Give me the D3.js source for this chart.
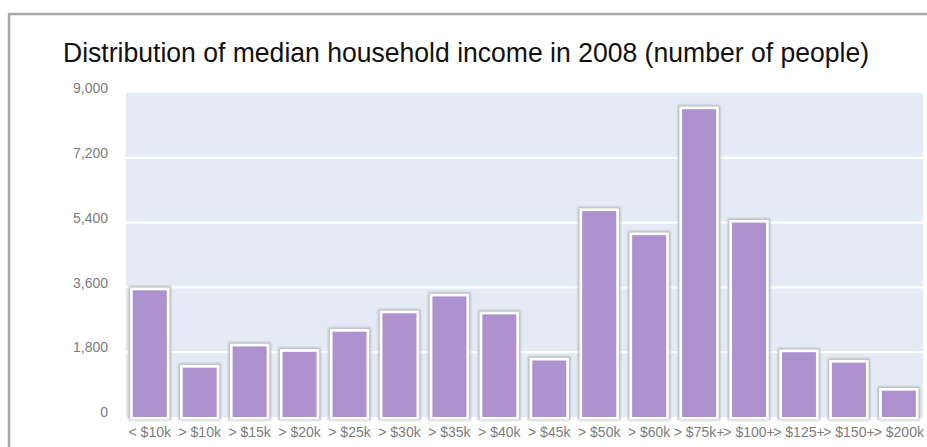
<!DOCTYPE html>
<html>
<head>
<meta charset="utf-8">
<script src="https://cdn.jsdelivr.net/npm/d3@7/dist/d3.min.js"></script>
<style>
  html, body { margin: 0; padding: 0; background: #fff; }
  svg { display: block; }
</style>
</head>
<body>
<svg id="chart" width="927" height="447"></svg>
<script>
// Income brackets and head counts
const categories = ["< $10k", "> $10k", "> $15k", "> $20k", "> $25k", "> $30k", "> $35k", "> $40k",
                    "> $45k", "> $50k", "> $60k", "> $75k+", "> $100+", "> $125+", "> $150+", "> $200k"];
const people = [3520, 1370, 1960, 1810, 2370, 2880, 3350, 2850,
                1570, 5720, 5050, 8550, 5400, 1800, 1510, 730];
const yTicks = [0, 1800, 3600, 5400, 7200, 9000];
const title = "Distribution of median household income in 2008 (number of people)";

const svg = d3.select("#chart");

// panel frame
svg.append("rect")
  .attr("x", 9).attr("y", 14).attr("width", 940).attr("height", 460)
  .attr("fill", "#fff").attr("stroke", "#a9a9a9").attr("stroke-width", 2.5);

const x = d3.scaleBand().domain(categories).range([124.8, 923.8]).paddingInner(0).paddingOuter(0);
const y = d3.scaleLinear().domain([0, 9000]).range([417, 93]);

// title
svg.append("text")
  .attr("x", 466).attr("y", 62)
  .attr("text-anchor", "middle")
  .attr("font-family", "Liberation Sans, Arial, sans-serif")
  .attr("font-size", 27.5)
  .attr("textLength", 806)
  .attr("lengthAdjust", "spacingAndGlyphs")
  .attr("fill", "#111")
  .text(title);

// plot background
svg.append("rect")
  .attr("x", 126).attr("y", y(9000))
  .attr("width", 797).attr("height", y(0) - y(9000))
  .attr("fill", "#e5ebf4");

// horizontal gridlines
svg.append("g")
  .selectAll("line")
  .data(yTicks.filter(d => d > 0 && d < 9000))
  .join("line")
  .attr("x1", 126).attr("x2", 923)
  .attr("y1", d => y(d)).attr("y2", d => y(d))
  .attr("stroke", "#ffffff").attr("stroke-width", 2.2);

// y axis labels
const yAxis = d3.axisLeft(y).tickValues(yTicks).tickSize(0).tickPadding(0)
  .tickFormat(d3.format(","));
const gy = svg.append("g").attr("transform", "translate(108,0)").call(yAxis);
gy.select(".domain").remove();
gy.selectAll("text")
  .attr("dy", "-0.02em")
  .attr("font-family", "Liberation Sans, Arial, sans-serif")
  .attr("font-size", 14)
  .attr("fill", "#7d7d7d");

// bar shadow filter
const defs = svg.append("defs");
const f = defs.append("filter").attr("id", "soft").attr("x", "-20%").attr("y", "-20%")
  .attr("width", "140%").attr("height", "140%");
f.append("feGaussianBlur").attr("stdDeviation", 1.2);

const barW = 34;
const bars = svg.append("g");
const cx = d => x(d) + x.bandwidth() / 2;

// shadow outline
bars.selectAll("rect.shadow")
  .data(categories)
  .join("rect")
  .attr("class", "shadow")
  .attr("x", (d) => cx(d) - barW / 2 - 4.2)
  .attr("y", (d, i) => y(people[i]) - 4.2)
  .attr("width", barW + 8.4)
  .attr("height", (d, i) => y(0) - y(people[i]) + 7.4)
  .attr("fill", "#b3b8c0")
  .attr("filter", "url(#soft)");

// white frame
bars.selectAll("rect.frame")
  .data(categories)
  .join("rect")
  .attr("class", "frame")
  .attr("x", (d) => cx(d) - barW / 2 - 2.7)
  .attr("y", (d, i) => y(people[i]) - 2.7)
  .attr("width", barW + 5.4)
  .attr("height", (d, i) => y(0) - y(people[i]) + 5.2)
  .attr("fill", "#ffffff");

// purple fill
bars.selectAll("rect.bar")
  .data(categories)
  .join("rect")
  .attr("class", "bar")
  .attr("x", (d) => cx(d) - barW / 2)
  .attr("y", (d, i) => y(people[i]))
  .attr("width", barW)
  .attr("height", (d, i) => y(0) - y(people[i]))
  .attr("fill", "#ae92cf");

// category labels
const xAxis = d3.axisBottom(x).tickSize(0).tickPadding(0);
const gx = svg.append("g").attr("transform", "translate(0,427)").call(xAxis);
gx.select(".domain").remove();
gx.selectAll("text")
  .attr("dy", "0.71em")
  .attr("font-family", "Liberation Sans, Arial, sans-serif")
  .attr("font-size", 14)
  .attr("fill", "#7d7d7d");
</script>
</body>
</html>
